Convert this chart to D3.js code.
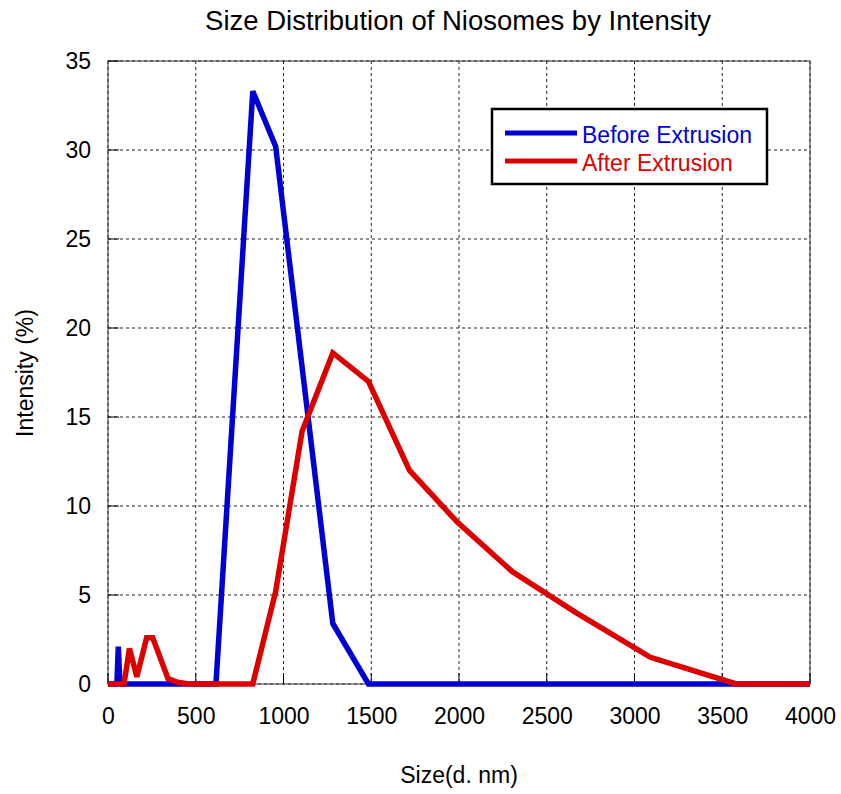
<!DOCTYPE html>
<html>
<head>
<meta charset="utf-8">
<script src="https://cdn.jsdelivr.net/npm/d3@7"></script>
<style>
  html, body { margin: 0; padding: 0; background: #fff; }
  text { font-family: "Liberation Sans", Arial, sans-serif; }
</style>
</head>
<body>
<svg id="chart" width="841" height="794"></svg>
<script>
// Particle size (nm) and intensity (%) for each sample
const beforeSize = [0.4, 50.75, 58.77, 68.06, 615.1, 825.0, 955.4, 1281, 1484, 4000];
const beforeIntensity = [0, 0, 2.1, 0, 0, 33.3, 30.2, 3.4, 0, 0];

const afterSize = [0.4, 91.28, 122.4, 164.2, 220.2, 255.0, 342.0, 396.1, 458.7, 825.0, 955.4, 1106, 1281, 1484, 1718, 1990, 2305, 2669, 3091, 3580, 4000];
const afterIntensity = [0, 0, 2.0, 0.4, 2.6, 2.6, 0.3, 0.1, 0, 0, 5.2, 14.2, 18.6, 17.0, 12.0, 9.1, 6.3, 4.0, 1.5, 0, 0];

const xTicks = [0, 500, 1000, 1500, 2000, 2500, 3000, 3500, 4000];
const yTicks = [0, 5, 10, 15, 20, 25, 30, 35];

const seriesNames = ["Before Extrusion", "After Extrusion"];
const seriesColors = ["#0000d4", "#dd0000"];

(function draw() {
  const svg = d3.select("#chart");
  const plotLeft = 108, plotRight = 810, plotTop = 61, plotBottom = 684;

  const x = d3.scaleLinear().domain([0, 4000]).range([plotLeft, plotRight]);
  const y = d3.scaleLinear().domain([0, 35]).range([plotBottom, plotTop]);

  // Grid
  const grid = svg.append("g").attr("stroke", "#222").attr("stroke-width", 1)
    .attr("stroke-dasharray", "3,3");
  grid.selectAll("line.vx").data(xTicks).join("line").attr("class", "vx")
    .attr("x1", d => x(d)).attr("x2", d => x(d)).attr("y1", plotTop).attr("y2", plotBottom);
  grid.selectAll("line.hy").data(yTicks).join("line").attr("class", "hy")
    .attr("x1", plotLeft).attr("x2", plotRight).attr("y1", d => y(d)).attr("y2", d => y(d));

  // Frame
  svg.append("rect").attr("x", plotLeft).attr("y", plotTop)
    .attr("width", plotRight - plotLeft).attr("height", plotBottom - plotTop)
    .attr("fill", "none").attr("stroke", "#333").attr("stroke-width", 1);

  // Inward tick marks
  const ticks = svg.append("g").attr("stroke", "#000").attr("stroke-width", 1);
  ticks.selectAll("line.ty").data(yTicks).join("line").attr("class", "ty")
    .attr("x1", plotLeft).attr("x2", plotLeft + 11).attr("y1", d => y(d)).attr("y2", d => y(d));
  ticks.selectAll("line.tx").data(xTicks).join("line").attr("class", "tx")
    .attr("x1", d => x(d)).attr("x2", d => x(d)).attr("y1", plotBottom).attr("y2", plotBottom - 11);

  // Tick labels
  const xAxis = svg.append("g").attr("transform", `translate(0,${plotBottom})`)
    .call(d3.axisBottom(x).tickValues(xTicks).tickSize(0).tickPadding(24).tickFormat(d3.format("d")));
  const yAxis = svg.append("g").attr("transform", `translate(${plotLeft},0)`)
    .call(d3.axisLeft(y).tickValues(yTicks).tickSize(0).tickPadding(17).tickFormat(d3.format("d")));
  [xAxis, yAxis].forEach(a => {
    a.select(".domain").remove();
    a.selectAll("text").attr("font-size", 23).attr("fill", "#000")
      .attr("font-family", "Liberation Sans, Arial, sans-serif");
  });

  // Series lines
  const line = d3.line().x(d => x(d[0])).y(d => y(d[1]));
  const series = [
    d3.zip(beforeSize, beforeIntensity),
    d3.zip(afterSize, afterIntensity)
  ];
  series.forEach((pts, i) => {
    svg.append("path").datum(pts)
      .attr("d", line)
      .attr("fill", "none")
      .attr("stroke", seriesColors[i])
      .attr("stroke-width", 5.5)
      .attr("stroke-linejoin", "miter");
  });

  // Title and axis titles
  svg.append("text").attr("x", 458).attr("y", 30).attr("text-anchor", "middle")
    .attr("font-size", 27.5).text("Size Distribution of Niosomes by Intensity");
  svg.append("text").attr("x", 459).attr("y", 783).attr("text-anchor", "middle")
    .attr("font-size", 23).text("Size(d. nm)");
  svg.append("text").attr("transform", "translate(33,373) rotate(-90)")
    .attr("text-anchor", "middle").attr("font-size", 23).text("Intensity (%)");

  // Legend
  const lg = svg.append("g");
  lg.append("rect").attr("x", 492).attr("y", 109).attr("width", 275).attr("height", 75)
    .attr("fill", "#fff").attr("stroke", "#000").attr("stroke-width", 2.5);
  seriesNames.forEach((name, i) => {
    const yy = 133 + i * 28;
    lg.append("line").attr("x1", 505).attr("x2", 577).attr("y1", yy).attr("y2", yy)
      .attr("stroke", seriesColors[i]).attr("stroke-width", 5);
    lg.append("text").attr("x", 582).attr("y", yy + 9.5).attr("font-size", 23)
      .attr("fill", seriesColors[i]).text(name);
  });
})();
</script>
</body>
</html>
